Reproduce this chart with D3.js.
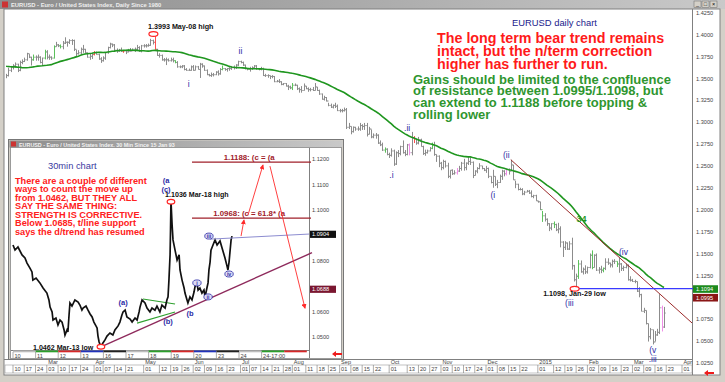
<!DOCTYPE html>
<html>
<head>
<meta charset="utf-8">
<script src="https://cdn.jsdelivr.net/npm/d3@7"></script>
<style>
  body { margin: 0; background: #fff; }
  svg { display: block; font-family: "Liberation Sans", Arial, sans-serif; }
</style>
</head>
<body>
<svg id="chart" width="725" height="382"></svg>
<script>
// ---- daily EURUSD bars, one row per week (Mon..Fri), starting Mon 3 Feb 2014
const firstBarDate = new Date(2014, 1, 3);

// closes for the 35 sessions before the first bar (only used for the 34 average)
const priorCloses = [
  1.3760,1.3770,1.3680,1.3660,1.3670, 1.3700,1.3690,1.3690,1.3690,1.3740,
  1.3800,1.3760,1.3760,1.3670,1.3590, 1.3630,1.3610,1.3580,1.3590,1.3670,
  1.3670,1.3670,1.3610,1.3620,1.3540, 1.3550,1.3560,1.3560,1.3690,1.3680,
  1.3670,1.3670,1.3660,1.3580,1.3490
];

const barClose = [
  1.3510,1.3520,1.3530,1.3590,1.3630, 1.3640,1.3660,1.3590,1.3680,1.3690,
  1.3710,1.3780,1.3740,1.3710,1.3740, 1.3740,1.3740,1.3680,1.3730,1.3800,
  1.3740,1.3740,1.3730,1.3860,1.3880, 1.3870,1.3860,1.3900,1.3910,1.3910,
  1.3930,1.3930,1.3830,1.3780,1.3790, 1.3830,1.3830,1.3790,1.3740,1.3750,
  1.3770,1.3790,1.3770,1.3720,1.3700, 1.3730,1.3790,1.3850,1.3890,1.3880,
  1.3820,1.3810,1.3820,1.3810,1.3810, 1.3800,1.3810,1.3810,1.3830,1.3830,
  1.3850,1.3810,1.3870,1.3870,1.3870, 1.3875,1.3930,1.3910,1.3830,1.3760,
  1.3760,1.3710,1.3710,1.3710,1.3700, 1.3710,1.3700,1.3680,1.3630,1.3630,
  1.3640,1.3600,1.3590,1.3590,1.3630, 1.3590,1.3630,1.3600,1.3660,1.3640,
  1.3590,1.3540,1.3530,1.3540,1.3540, 1.3570,1.3550,1.3600,1.3610,1.3600,
  1.3610,1.3610,1.3620,1.3620,1.3650, 1.3690,1.3680,1.3650,1.3610,1.3600,
  1.3610,1.3620,1.3640,1.3610,1.3600, 1.3610,1.3530,1.3530,1.3530,1.3520,
  1.3520,1.3460,1.3465,1.3460,1.3430, 1.3440,1.3410,1.3400,1.3390,1.3420,
  1.3420,1.3380,1.3370,1.3360,1.3410, 1.3380,1.3370,1.3370,1.3360,1.3400,
  1.3360,1.3320,1.3260,1.3280,1.3240, 1.3190,1.3170,1.3190,1.3180,1.3130,
  1.3130,1.3130,1.3140,1.2940,1.2950, 1.2890,1.2940,1.2920,1.2920,1.2960,
  1.2950,1.2960,1.2860,1.2920,1.2830, 1.2850,1.2850,1.2760,1.2740,1.2680,
  1.2690,1.2630,1.2620,1.2670,1.2520, 1.2650,1.2640,1.2720,1.2650,1.2630,
  1.2740,1.2650,1.2820,1.2810,1.2760, 1.2800,1.2720,1.2640,1.2650,1.2670,
  1.2700,1.2740,1.2630,1.2610,1.2530, 1.2480,1.2550,1.2500,1.2380,1.2450,
  1.2410,1.2420,1.2440,1.2470,1.2530, 1.2480,1.2530,1.2550,1.2540,1.2390,
  1.2440,1.2470,1.2500,1.2470,1.2450, 1.2470,1.2380,1.2310,1.2380,1.2290,
  1.2310,1.2380,1.2440,1.2410,1.2460, 1.2440,1.2510,1.2340,1.2290,1.2230,
  1.2230,1.2180,1.2200,1.2210,1.2190, 1.2150,1.2160,1.2100,1.2090,1.2000,
  1.1930,1.1890,1.1840,1.1790,1.1840, 1.1830,1.1770,1.1780,1.1630,1.1570,
  1.1620,1.1550,1.1610,1.1360,1.1200, 1.1240,1.1380,1.1290,1.1320,1.1290,
  1.1340,1.1480,1.1340,1.1480,1.1310, 1.1320,1.1310,1.1330,1.1400,1.1390,
  1.1370,1.1410,1.1410,1.1380,1.1380, 1.1330,1.1340,1.1360,1.1200,1.1195,
  1.1180,1.1180,1.1070,1.1030,1.0840, 1.0850,1.0700,1.0550,1.0630,1.0490,
  1.0570,1.0600,1.0880,1.0660,1.0820
];

const barHigh = [
  1.3540,1.3540,1.3550,1.3620,1.3640, 1.3660,1.3680,1.3665,1.3700,1.3715,
  1.3735,1.3790,1.3775,1.3745,1.3770, 1.3760,1.3770,1.3750,1.3735,1.3825,
  1.3820,1.3770,1.3750,1.3875,1.3915, 1.3890,1.3885,1.3925,1.3967,1.3920,
  1.3945,1.3945,1.3940,1.3825,1.3820, 1.3850,1.3880,1.3835,1.3795,1.3780,
  1.3785,1.3810,1.3805,1.3780,1.3740, 1.3750,1.3800,1.3860,1.3905,1.3895,
  1.3890,1.3840,1.3835,1.3850,1.3820, 1.3820,1.3835,1.3845,1.3840,1.3850,
  1.3880,1.3865,1.3880,1.3888,1.3890, 1.3895,1.3950,1.3940,1.3993,1.3835,
  1.3785,1.3770,1.3730,1.3735,1.3725, 1.3735,1.3735,1.3705,1.3695,1.3645,
  1.3650,1.3650,1.3615,1.3610,1.3645, 1.3650,1.3645,1.3640,1.3675,1.3670,
  1.3645,1.3600,1.3550,1.3565,1.3560, 1.3580,1.3590,1.3615,1.3645,1.3615,
  1.3615,1.3625,1.3640,1.3645,1.3660, 1.3700,1.3700,1.3690,1.3655,1.3615,
  1.3630,1.3635,1.3650,1.3650,1.3615, 1.3630,1.3620,1.3550,1.3545,1.3530,
  1.3535,1.3525,1.3480,1.3490,1.3465, 1.3445,1.3445,1.3425,1.3415,1.3445,
  1.3440,1.3425,1.3395,1.3410,1.3440, 1.3410,1.3395,1.3390,1.3400,1.3445,
  1.3400,1.3370,1.3325,1.3300,1.3285, 1.3220,1.3210,1.3200,1.3220,1.3200,
  1.3150,1.3150,1.3165,1.3160,1.2990, 1.2950,1.2950,1.2945,1.2950,1.2990,
  1.2975,1.2990,1.2990,1.2945,1.2915, 1.2870,1.2875,1.2860,1.2790,1.2765,
  1.2710,1.2700,1.2650,1.2700,1.2685, 1.2665,1.2680,1.2730,1.2790,1.2680,
  1.2750,1.2755,1.2887,1.2840,1.2810, 1.2830,1.2810,1.2730,1.2685,1.2685,
  1.2715,1.2765,1.2775,1.2630,1.2620, 1.2545,1.2570,1.2560,1.2535,1.2450,
  1.2460,1.2450,1.2475,1.2500,1.2545, 1.2580,1.2540,1.2600,1.2600,1.2550,
  1.2450,1.2485,1.2530,1.2500,1.2475, 1.2500,1.2480,1.2380,1.2455,1.2380,
  1.2340,1.2400,1.2455,1.2450,1.2470, 1.2470,1.2570,1.2510,1.2330,1.2295,
  1.2250,1.2245,1.2215,1.2225,1.2225, 1.2220,1.2170,1.2170,1.2100,1.2090,
  1.1985,1.1960,1.1900,1.1845,1.1845, 1.1865,1.1840,1.1850,1.1810,1.1640,
  1.1640,1.1625,1.1640,1.1680,1.1370, 1.1270,1.1425,1.1420,1.1340,1.1365,
  1.1350,1.1500,1.1535,1.1490,1.1500, 1.1345,1.1360,1.1340,1.1445,1.1445,
  1.1395,1.1430,1.1435,1.1410,1.1450, 1.1390,1.1360,1.1385,1.1375,1.1240,
  1.1210,1.1200,1.1180,1.1115,1.1040, 1.0880,1.0850,1.0700,1.0650,1.0630,
  1.0615,1.0640,1.1036,1.0905,1.0890
];

const barLow = [
  1.3480,1.3480,1.3500,1.3520,1.3570, 1.3600,1.3620,1.3570,1.3580,1.3660,
  1.3685,1.3700,1.3730,1.3645,1.3700, 1.3700,1.3700,1.3670,1.3645,1.3715,
  1.3715,1.3710,1.3710,1.3725,1.3860, 1.3855,1.3840,1.3830,1.3890,1.3860,
  1.3890,1.3880,1.3810,1.3750,1.3770, 1.3770,1.3790,1.3780,1.3735,1.3710,
  1.3720,1.3760,1.3770,1.3710,1.3675, 1.3690,1.3710,1.3780,1.3840,1.3855,
  1.3810,1.3790,1.3800,1.3800,1.3790, 1.3775,1.3795,1.3805,1.3810,1.3800,
  1.3820,1.3800,1.3795,1.3850,1.3850, 1.3860,1.3870,1.3885,1.3825,1.3755,
  1.3735,1.3700,1.3690,1.3650,1.3690, 1.3690,1.3680,1.3670,1.3620,1.3615,
  1.3615,1.3590,1.3585,1.3585,1.3585, 1.3585,1.3590,1.3600,1.3503,1.3620,
  1.3585,1.3535,1.3520,1.3515,1.3520, 1.3535,1.3530,1.3540,1.3590,1.3585,
  1.3575,1.3585,1.3595,1.3600,1.3605, 1.3640,1.3670,1.3640,1.3600,1.3590,
  1.3575,1.3595,1.3605,1.3595,1.3590, 1.3590,1.3525,1.3515,1.3505,1.3490,
  1.3500,1.3455,1.3455,1.3445,1.3420, 1.3420,1.3405,1.3365,1.3375,1.3365,
  1.3410,1.3365,1.3335,1.3335,1.3360, 1.3375,1.3345,1.3350,1.3355,1.3360,
  1.3355,1.3310,1.3255,1.3245,1.3235, 1.3180,1.3160,1.3155,1.3160,1.3125,
  1.3110,1.3110,1.3120,1.2920,1.2920, 1.2860,1.2880,1.2900,1.2900,1.2900,
  1.2910,1.2910,1.2835,1.2860,1.2815, 1.2815,1.2810,1.2750,1.2725,1.2670,
  1.2650,1.2620,1.2590,1.2605,1.2500, 1.2510,1.2600,1.2620,1.2640,1.2610,
  1.2620,1.2620,1.2620,1.2760,1.2740, 1.2745,1.2720,1.2625,1.2615,1.2640,
  1.2665,1.2690,1.2615,1.2545,1.2485, 1.2450,1.2460,1.2480,1.2360,1.2355,
  1.2395,1.2400,1.2400,1.2430,1.2445, 1.2445,1.2450,1.2510,1.2510,1.2360,
  1.2390,1.2415,1.2460,1.2460,1.2440, 1.2420,1.2360,1.2300,1.2250,1.2270,
  1.2245,1.2305,1.2340,1.2380,1.2390, 1.2400,1.2440,1.2340,1.2245,1.2220,
  1.2220,1.2165,1.2165,1.2200,1.2180, 1.2140,1.2130,1.2100,1.2080,1.1995,
  1.1860,1.1865,1.1815,1.1755,1.1765, 1.1790,1.1755,1.1730,1.1570,1.1460,
  1.1540,1.1540,1.1540,1.1315,1.1180, 1.1098,1.1210,1.1280,1.1260,1.1265,
  1.1270,1.1330,1.1320,1.1340,1.1300, 1.1270,1.1275,1.1285,1.1310,1.1370,
  1.1340,1.1340,1.1380,1.1345,1.1280, 1.1300,1.1300,1.1330,1.1190,1.1180,
  1.1175,1.1160,1.1060,1.1000,1.0840, 1.0820,1.0690,1.0495,1.0520,1.0462,
  1.0495,1.0560,1.0580,1.0610,1.0650
];

const greenBarDays = ["2014-02-21","2014-02-28","2014-03-06","2014-03-11","2014-05-21","2014-06-19",
  "2014-08-01","2014-09-29","2014-10-28","2015-01-05","2015-01-12","2015-01-27","2015-02-04",
  "2015-02-11","2015-02-19"];
const redBarDays = ["2014-04-01","2014-04-18","2014-05-08","2014-10-16"];
const pinkBarDays = ["2014-10-14","2014-11-12","2014-12-12","2015-03-19"];

const yTicks = [1.425,1.4,1.375,1.35,1.325,1.3,1.275,1.25,1.225,1.2,1.175,1.15,1.125,1.1,1.075,1.05,1.025];
const dayTicks = ["2014-02-10","2014-02-17","2014-02-24","2014-03-03","2014-03-10","2014-03-17","2014-03-24",
  "2014-04-01","2014-04-07","2014-04-14","2014-04-21","2014-05-01","2014-05-12","2014-05-19","2014-05-26",
  "2014-06-02","2014-06-09","2014-06-16","2014-06-23","2014-07-01","2014-07-07","2014-07-14","2014-07-21",
  "2014-07-28","2014-08-01","2014-08-11","2014-08-18","2014-08-25","2014-09-01","2014-09-08","2014-09-15",
  "2014-09-22","2014-10-01","2014-10-13","2014-10-20","2014-10-27","2014-11-03","2014-11-10","2014-11-17",
  "2014-11-24","2014-12-01","2014-12-08","2014-12-15","2014-12-22","2015-01-01","2015-01-12","2015-01-19",
  "2015-01-26","2015-02-02","2015-02-09","2015-02-16","2015-02-23","2015-03-02","2015-03-09","2015-03-16",
  "2015-03-23","2015-04-01"];
const monthTicks = [["2014-03-03","Mar"],["2014-04-01","Apr"],["2014-05-01","May"],["2014-06-02","Jun"],
  ["2014-07-01","Jul"],["2014-08-01","Aug"],["2014-09-01","Sep"],["2014-10-01","Oct"],["2014-11-03","Nov"],
  ["2014-12-01","Dec"],["2015-01-01","2015"],["2015-02-02","Feb"],["2015-03-02","Mar"],["2015-04-01","Apr"]];

// right-axis value flags
const axisFlags = [["1.1094", 1.1094, "#1d8a1d"], ["1.0995", 1.0995, "#8a1616"]];

// trend line from the Dec-16 high, value 1.0995 on the last bar
const trendPts = [["2014-12-16", 1.2570], ["2015-03-20", 1.0995]];
const supportLevel = ["2015-01-26", 1.1098];

const waveLabels = [
  ["ii","2014-07-01",1.3811], ["i","2014-05-29",1.3434], [".ii","2014-10-13",1.2931],
  [".i","2014-10-02",1.2395], ["(i","2014-12-04",1.2167], ["(ii","2014-12-12",1.2623],
  ["(iv","2015-02-24",1.1516], ["(iii","2015-01-21",1.0940], ["(v","2015-03-13",1.0397],
  [".iii","2015-03-13",1.0290]
];

// ---- 30 min inset: time in trading days since 10 Mar 2015 00:00, price
const insetT = [0.00,0.09,0.22,0.40,0.53,0.62,0.75,0.84,0.88,1.02,1.19,1.33,1.50,1.59,1.64,1.73,1.77,1.90,
  1.99,2.08,2.17,2.26,2.30,2.39,2.43,2.48,2.52,2.61,2.74,2.88,2.96,3.05,3.10,3.23,3.32,3.41,3.50,3.58,
  3.72,3.76,3.81,3.89,3.98,4.07,4.16,4.29,4.42,4.51,4.65,4.73,4.82,4.87,4.96,5.04,5.18,5.27,5.40,5.49,
  5.58,5.62,5.71,5.84,5.93,6.06,6.15,6.28,6.37,6.50,6.59,6.73,6.81,6.86,6.90,6.95,6.97,6.99,7.04,7.08,
  7.17,7.26,7.35,7.39,7.48,7.57,7.61,7.70,7.74,7.83,7.92,8.01,8.05,8.14,8.19,8.27,8.36,8.45,8.50,8.58,
  8.63,8.67,8.72,8.76,8.85,8.94,9.03,9.16,9.25,9.38,9.47,9.51,9.56,9.60,9.65,9.69];
const insetP = [1.0862,1.0842,1.0854,1.0823,1.0811,1.0791,1.0771,1.0756,1.0724,1.0732,1.0713,1.0693,1.0673,
  1.0646,1.0618,1.0599,1.0567,1.0575,1.0548,1.0567,1.0559,1.0528,1.0508,1.0528,1.0520,1.0587,1.0634,
  1.0622,1.0646,1.0638,1.0626,1.0606,1.0614,1.0622,1.0606,1.0591,1.0579,1.0559,1.0536,1.0504,1.0481,
  1.0462,1.0477,1.0489,1.0504,1.0516,1.0508,1.0528,1.0544,1.0559,1.0587,1.0599,1.0606,1.0579,1.0571,
  1.0559,1.0575,1.0567,1.0599,1.0618,1.0646,1.0634,1.0614,1.0599,1.0614,1.0606,1.0622,1.0599,1.0626,
  1.0614,1.0646,1.0658,1.0724,1.0823,1.0921,1.1036,1.0940,1.0882,1.0842,1.0803,1.0823,1.0764,1.0724,
  1.0693,1.0673,1.0646,1.0634,1.0658,1.0646,1.0677,1.0697,1.0713,1.0685,1.0693,1.0673,1.0685,1.0658,
  1.0693,1.0713,1.0764,1.0795,1.0842,1.0862,1.0882,1.0862,1.0878,1.0850,1.0811,1.0779,1.0764,1.0795,
  1.0834,1.0882,1.0897];

const insetYTicks = [1.12, 1.11, 1.10, 1.08, 1.06, 1.05];
const insetDayTicks = ["10","11","12","13","16","17","18","19","20","23","24","24-17:00"];
const insetSessionColors = ["#bdbdbd","#2ca02c","#d62728","#2233bb","#222222","#bdbdbd","#2ca02c",
  "#d62728","#2233bb","#222222","#bdbdbd","#2ca02c","#d62728"];
const insetFlags = [["1.0904", 1.0904, "#111111"], ["1.0688", 1.0688, "#7a1630"]];

const insetTargets = [["1.1188: (c = (a", 1.1188], ["1.0968: (c = 61.8* (a", 1.0968]];
const insetTrend = [[3.89, 1.0462], [9.60, 1.0688]];
const insetBlueLine = [[8.72, 1.0885], [13.1, 1.0905]];
const insetArrows = [
  [[10.09, 1.0897], [10.22, 1.0960]],
  [[10.40, 1.0980], [11.06, 1.1176]],
  [[11.37, 1.1172], [12.92, 1.0614]]
];
const insetTriangle = [[[5.75, 1.0650], [7.17, 1.0630]], [[5.49, 1.0555], [7.17, 1.0599]]];
const insetWaves = [["(a", 6.77, 1.1117], ["(c)", 6.77, 1.1082], ["(a)", 4.87, 1.0638],
  ["(b)", 6.86, 1.0563], ["(b", 7.83, 1.0595]];
const insetCircled = [["i", 8.14, 1.0713], ["ii", 8.63, 1.0658], ["iii", 8.67, 1.0897], ["iv", 9.56, 1.0748]];

const redNote = ["There are a couple of different", "ways to count the move up",
  "from 1.0462, BUT THEY ALL", "SAY THE SAME THING:", "STRENGTH IS CORRECTIVE.",
  "Below 1.0685, t/line support", "says the d/trend has resumed"];
const bigRed = ["The long term bear trend remains", "intact, but the n/term correction",
  "higher has further to run."];
const bigGreen = ["Gains should be limited to the confluence", "of resistance between 1.0995/1.1098, but",
  "can extend to 1.1188 before topping &", "rolling lower"];

// ================= drawing =================
const svg = d3.select("#chart");
const fmt = d3.timeFormat("%Y-%m-%d");
const days = d3.timeDay.range(firstBarDate, new Date(2015, 3, 4)).filter(d => d.getDay() % 6 !== 0);
const dayIndex = new Map(days.map((d, i) => [fmt(d), i - 5]));   // 0 = Mon 10 Feb 2014

const x = d3.scaleLinear().domain([0, 297]).range([13, 682]);
const y = d3.scaleLinear().domain([1.025, 1.425]).range([363, 12.5]);
const xd = s => x(dayIndex.get(s));

const plot = {l: 6, r: 692, t: 10, b: 359};

const defs = svg.append("defs");
const tg = defs.append("linearGradient").attr("id", "titleGrad");
tg.append("stop").attr("offset", "0%").attr("stop-color", "#8d8d8d");
tg.append("stop").attr("offset", "100%").attr("stop-color", "#c9c9c9");
defs.append("clipPath").attr("id", "mainClip").append("rect")
  .attr("x", plot.l).attr("y", plot.t).attr("width", plot.r - plot.l).attr("height", plot.b - plot.t);
defs.append("marker").attr("id", "redHead").attr("viewBox", "0 0 6 6").attr("refX", 5).attr("refY", 3)
  .attr("markerWidth", 5).attr("markerHeight", 5).attr("markerUnits", "userSpaceOnUse").attr("orient", "auto")
  .append("path").attr("d", "M0,0L6,3L0,6Z").attr("fill", "#ff2a2a");

// window chrome
svg.append("rect").attr("width", 725).attr("height", 382).attr("fill", "#d4d0c8");
svg.append("rect").attr("x", 0).attr("y", 0).attr("width", 725).attr("height", 9).attr("fill", "url(#titleGrad)");
svg.append("rect").attr("x", 2).attr("y", 1.5).attr("width", 6).attr("height", 6).attr("fill", "#c33");
svg.append("text").attr("x", 11).attr("y", 7).attr("font-size", 5.8).attr("font-weight", "bold")
  .attr("fill", "#eeeeee").text("EURUSD - Euro / United States Index, Daily  Since 1980");
[694, 702, 710].forEach((bx, k) => {
  svg.append("rect").attr("x", bx).attr("y", 1).attr("width", 7).attr("height", 6.5)
    .attr("fill", "#d4d0c8").attr("stroke", "#666").attr("stroke-width", 0.5);
  svg.append("text").attr("x", bx + 3.5).attr("y", 6.3).attr("text-anchor", "middle")
    .attr("font-size", 5.5).attr("fill", "#000").text(["_", "□", "×"][k]);
});
svg.append("rect").attr("x", 4).attr("y", 9).attr("width", 716).attr("height", 366)
  .attr("fill", "#fff").attr("stroke", "#808080").attr("stroke-width", 1);
svg.append("line").attr("x1", plot.r + 0.5).attr("x2", plot.r + 0.5).attr("y1", 9).attr("y2", 375)
  .attr("stroke", "#808080");

// right axis
const yAxis = d3.axisRight(y).tickValues(yTicks).tickSize(0).tickPadding(0).tickFormat(d3.format(".4f"));
svg.append("g").attr("transform", `translate(${plot.r + 4},0)`).call(yAxis)
  .call(g => g.select(".domain").remove())
  .call(g => g.selectAll("text").attr("font-size", 5.6).attr("fill", "#444")
    .attr("font-family", "'Liberation Sans', Arial, sans-serif"));

// date axis
const dateG = svg.append("g");
dateG.append("line").attr("x1", 4).attr("x2", plot.r).attr("y1", plot.b + 0.5).attr("y2", plot.b + 0.5).attr("stroke", "#808080");
dateG.append("rect").attr("x", 5).attr("y", 365).attr("width", plot.r - 5).attr("height", 8)
  .attr("fill", "#fff").attr("stroke", "#9a9a9a").attr("stroke-width", 0.6);
dayTicks.forEach(s => {
  const tx = xd(s);
  dateG.append("line").attr("x1", tx).attr("x2", tx).attr("y1", 365).attr("y2", 373).attr("stroke", "#777").attr("stroke-width", 0.6);
  dateG.append("text").attr("x", tx + 1.5).attr("y", 371.3).attr("font-size", 5.6).attr("fill", "#444").text(s.slice(8));
});
monthTicks.forEach(([s, lab]) => {
  dateG.append("text").attr("x", xd(s) + 1.5).attr("y", 364.2).attr("font-size", 5.6).attr("fill", "#444").text(lab);
});
svg.append("path").attr("d", "M704,373l4,-3v2h6v2h-6v2z").attr("fill", "#ee1c1c");

// ---- main plot
const main = svg.append("g").attr("clip-path", "url(#mainClip)");

const bars = barClose.map((c, i) => ({
  i: i - 5, date: fmt(days[i]), h: barHigh[i], l: barLow[i], c,
  o: i ? barClose[i - 1] : priorCloses[priorCloses.length - 1]
}));
const barColor = d => greenBarDays.includes(d.date) ? "#5cc05c"
  : redBarDays.includes(d.date) ? "#ff5050"
  : pinkBarDays.includes(d.date) ? "#f08ee8" : "#8c8c8c";

main.append("g").selectAll("path").data(bars).join("path")
  .attr("d", d => {
    const bx = Math.round(x(d.i)) + 0.5;
    return `M${bx},${y(d.h)}V${y(d.l)}M${bx - 1.2},${y(d.o)}H${bx}M${bx},${y(d.c)}H${bx + 1.2}`;
  })
  .attr("fill", "none").attr("stroke", barColor).attr("stroke-width", 1);

// 34 bar moving average
const allCloses = priorCloses.concat(barClose);
const ma = bars.map((b, j) => ({i: b.i, v: d3.mean(allCloses.slice(j + 2, j + 36))}));
main.append("path").datum(ma)
  .attr("d", d3.line().x(d => x(d.i)).y(d => y(d.v)))
  .attr("fill", "none").attr("stroke", "#1f961f").attr("stroke-width", 1.6);

// trend line and support
const i0 = dayIndex.get(trendPts[0][0]), i1 = dayIndex.get(trendPts[1][0]);
const slope = (trendPts[1][1] - trendPts[0][1]) / (i1 - i0);
const iEnd = x.invert(plot.r);
main.append("line")
  .attr("x1", x(i0)).attr("y1", y(trendPts[0][1]))
  .attr("x2", x(iEnd)).attr("y2", y(trendPts[0][1] + slope * (iEnd - i0)))
  .attr("stroke", "#9b2a2a").attr("stroke-width", 1);
svg.append("line")
  .attr("x1", xd(supportLevel[0]) - 5).attr("x2", plot.r + 2)
  .attr("y1", y(supportLevel[1])).attr("y2", y(supportLevel[1]))
  .attr("stroke", "#3a3aff").attr("stroke-width", 1.2);

// axis flags
axisFlags.forEach(([lab, v, col]) => {
  svg.append("rect").attr("x", plot.r + 1).attr("y", y(v) - 3.8).attr("width", 25).attr("height", 7.6).attr("fill", col);
  svg.append("text").attr("x", plot.r + 4).attr("y", y(v) + 2.1).attr("font-size", 5.6).attr("fill", "#fff").text(lab);
});

// high / low markers
[["2014-05-08", 1.3993], ["2015-01-26", 1.1098]].forEach(([s, v]) => {
  svg.append("ellipse").attr("cx", xd(s) - 1.5).attr("cy", y(v) + (v > 1.2 ? -1 : 0)).attr("rx", 4.5).attr("ry", 2.4)
    .attr("fill", "#fff").attr("stroke", "#ff2020").attr("stroke-width", 1.2);
});
svg.append("text").attr("x", xd("2014-05-08") - 7).attr("y", y(1.3993) - 6).attr("font-size", 7.2)
  .attr("font-weight", "bold").attr("fill", "#111").text("1.3993 May-08 high");
svg.append("text").attr("x", xd("2015-01-26") - 33).attr("y", y(1.1098) + 7.5).attr("font-size", 7.2)
  .attr("font-weight", "bold").attr("fill", "#111").text("1.1098, Jan-29 low");

svg.append("g").selectAll("text").data(waveLabels).join("text")
  .attr("x", d => xd(d[1])).attr("y", d => y(d[2]) + 3)
  .attr("text-anchor", "middle").attr("font-size", 8.5).attr("fill", "#2b2ba6").text(d => d[0]);
svg.append("text").attr("x", xd("2015-01-27") + 3).attr("y", y(1.1904) + 3.5).attr("text-anchor", "middle")
  .attr("font-size", 9).attr("font-weight", "bold").attr("fill", "#1f961f").text("34");

// commentary
svg.append("text").attr("x", 512).attr("y", 26).attr("font-size", 9.4).attr("fill", "#1a1a8c").text("EURUSD daily chart");
svg.append("g").selectAll("text").data(bigRed).join("text")
  .attr("x", 437).attr("y", (d, k) => 43 + k * 13).attr("font-size", 14.3).attr("font-weight", "bold")
  .attr("fill", "#ff1a1a").text(d => d);
svg.append("g").selectAll("text").data(bigGreen).join("text")
  .attr("x", 413).attr("y", (d, k) => 83.5 + k * 11.7).attr("font-size", 13).attr("font-weight", "bold")
  .attr("fill", "#2f962f").text(d => d);

// ================= 30 min inset =================
const ins = {l: 12, r: 309, t: 148, b: 350};
const ix = d3.scaleLinear().domain([0, 13]).range([13, 306.8]);
const iy = d3.scaleLinear().domain([1.05, 1.12]).range([337.1, 159.0]);
defs.append("clipPath").attr("id", "insClip").append("rect")
  .attr("x", ins.l).attr("y", ins.t).attr("width", ins.r - ins.l).attr("height", ins.b - ins.t);

const inset = svg.append("g");
inset.append("rect").attr("x", 8.5).attr("y", 139.5).attr("width", 335).attr("height", 220)
  .attr("fill", "#d4d0c8").attr("stroke", "#777");
inset.append("rect").attr("x", 9.5).attr("y", 140.5).attr("width", 333).attr("height", 7).attr("fill", "url(#titleGrad)");
inset.append("rect").attr("x", 11).attr("y", 141.5).attr("width", 5).attr("height", 5).attr("fill", "#c33");
inset.append("text").attr("x", 19).attr("y", 146.5).attr("font-size", 5.4).attr("font-weight", "bold")
  .attr("fill", "#f2f2f2").text("EURUSD - Euro / United States Index, 30 Min  Since 15 Jan 93");
inset.append("rect").attr("x", 10.5).attr("y", 147.5).attr("width", 331).attr("height", 211)
  .attr("fill", "#fff").attr("stroke", "#888").attr("stroke-width", 0.8);
inset.append("line").attr("x1", ins.r + 0.5).attr("x2", ins.r + 0.5).attr("y1", 148).attr("y2", 358).attr("stroke", "#808080");
inset.append("line").attr("x1", 11).attr("x2", ins.r).attr("y1", ins.b + 0.5).attr("y2", ins.b + 0.5).attr("stroke", "#808080");

// inset right axis
inset.append("g").attr("transform", `translate(${ins.r + 3},0)`)
  .call(d3.axisRight(iy).tickValues(insetYTicks).tickSize(0).tickPadding(0).tickFormat(d3.format(".4f")))
  .call(g => g.select(".domain").remove())
  .call(g => g.selectAll("text").attr("font-size", 5.6).attr("fill", "#444")
    .attr("font-family", "'Liberation Sans', Arial, sans-serif"));
insetFlags.forEach(([lab, v, col]) => {
  inset.append("rect").attr("x", ins.r + 1).attr("y", iy(v) - 3.6).attr("width", 26).attr("height", 7.2).attr("fill", col);
  inset.append("text").attr("x", ins.r + 3).attr("y", iy(v) + 2).attr("font-size", 5.6).attr("fill", "#fff").text(lab);
});

// inset time axis
insetSessionColors.forEach((c, k) => {
  inset.append("rect").attr("x", ix(k)).attr("y", ins.b + 0.5).attr("width", ix(k + 1) - ix(k)).attr("height", 1.8).attr("fill", c);
});
insetDayTicks.forEach((lab, k) => {
  inset.append("line").attr("x1", ix(k)).attr("x2", ix(k)).attr("y1", ins.b + 2).attr("y2", 358).attr("stroke", "#777").attr("stroke-width", 0.6);
  inset.append("text").attr("x", ix(k) + 1.5).attr("y", 357.5).attr("font-size", 5.6).attr("fill", "#444").text(lab);
});
inset.append("path").attr("d", "M332,354l4,-3v2h6v2h-6v2z").attr("fill", "#ee1c1c");

const ip = inset.append("g").attr("clip-path", "url(#insClip)");

// trend line from the Mar-13 low
const tSlope = (insetTrend[1][1] - insetTrend[0][1]) / (insetTrend[1][0] - insetTrend[0][0]);
const tEnd = ix.invert(ins.r + 3);
inset.append("line")
  .attr("x1", ix(insetTrend[0][0])).attr("y1", iy(insetTrend[0][1]))
  .attr("x2", ix(tEnd)).attr("y2", iy(insetTrend[0][1] + tSlope * (tEnd - insetTrend[0][0])))
  .attr("stroke", "#8e2a5c").attr("stroke-width", 1.4);

inset.append("line")
  .attr("x1", ix(insetBlueLine[0][0])).attr("y1", iy(insetBlueLine[0][1]))
  .attr("x2", ix(insetBlueLine[1][0])).attr("y2", iy(insetBlueLine[1][1]))
  .attr("stroke", "#8c8cd0").attr("stroke-width", 1);

insetTriangle.forEach(seg => {
  ip.append("line").attr("x1", ix(seg[0][0])).attr("y1", iy(seg[0][1]))
    .attr("x2", ix(seg[1][0])).attr("y2", iy(seg[1][1]))
    .attr("stroke", "#2ea02e").attr("stroke-width", 1.1);
});

// 30 min price trace
const insetSeries = insetT.map((t, k) => ({t, p: insetP[k]}));
ip.append("path").datum(insetSeries)
  .attr("d", d3.line().x(d => ix(d.t)).y(d => iy(d.p)))
  .attr("fill", "none").attr("stroke", "#111").attr("stroke-width", 1.7).attr("stroke-linejoin", "miter");

// target lines
insetTargets.forEach(([lab, v]) => {
  inset.append("line").attr("x1", ix(7.92)).attr("x2", ins.r + 2).attr("y1", iy(v)).attr("y2", iy(v))
    .attr("stroke", "#a0202a").attr("stroke-width", 1.3);
  inset.append("text").attr("x", ix(10.45)).attr("y", iy(v) - 2.2).attr("text-anchor", "middle")
    .attr("font-size", 7.8).attr("font-weight", "bold").attr("fill", "#a0202a").text(lab);
});

insetArrows.forEach(seg => {
  inset.append("line").attr("x1", ix(seg[0][0])).attr("y1", iy(seg[0][1]))
    .attr("x2", ix(seg[1][0])).attr("y2", iy(seg[1][1]))
    .attr("stroke", "#ff2a2a").attr("stroke-width", 0.9).attr("marker-end", "url(#redHead)");
});

// markers and labels in the inset
[[3.89, 1.0462], [6.99, 1.1036]].forEach(([t, p]) => {
  inset.append("ellipse").attr("cx", ix(t)).attr("cy", iy(p) + (p > 1.08 ? 1 : 0)).attr("rx", 3.8).attr("ry", 2.3)
    .attr("fill", "#fff").attr("stroke", "#ff2020").attr("stroke-width", 1.2);
});
inset.append("text").attr("x", 33).attr("y", iy(1.0462) + 3.5).attr("font-size", 7.1).attr("font-weight", "bold")
  .attr("fill", "#111").text("1.0462 Mar-13 low");
inset.append("text").attr("x", ix(6.73)).attr("y", iy(1.1036) - 4).attr("font-size", 7.1).attr("font-weight", "bold")
  .attr("fill", "#111").text("1.1036 Mar-18 high");

inset.append("g").selectAll("text").data(insetWaves).join("text")
  .attr("x", d => ix(d[1])).attr("y", d => iy(d[2]) + 3).attr("text-anchor", "middle")
  .attr("font-size", 7.5).attr("font-weight", "bold").attr("fill", "#2b2ba6").text(d => d[0]);
insetCircled.forEach(([lab, t, p]) => {
  inset.append("ellipse").attr("cx", ix(t)).attr("cy", iy(p)).attr("rx", 4.2).attr("ry", 3)
    .attr("fill", "#dcdcf4").attr("stroke", "#2b2ba6").attr("stroke-width", 0.8);
  inset.append("text").attr("x", ix(t)).attr("y", iy(p) + 2).attr("text-anchor", "middle")
    .attr("font-size", 5.2).attr("font-weight", "bold").attr("fill", "#2b2ba6").text(lab);
});

inset.append("text").attr("x", 48).attr("y", 169).attr("font-size", 9.3).attr("fill", "#3a3aa0").text("30min chart");
inset.append("g").selectAll("text").data(redNote).join("text")
  .attr("x", 15).attr("y", (d, k) => 183.5 + k * 8.5).attr("font-size", 9.2).attr("font-weight", "bold")
  .attr("fill", "#ff2020").text(d => d);
</script>
</body>
</html>
